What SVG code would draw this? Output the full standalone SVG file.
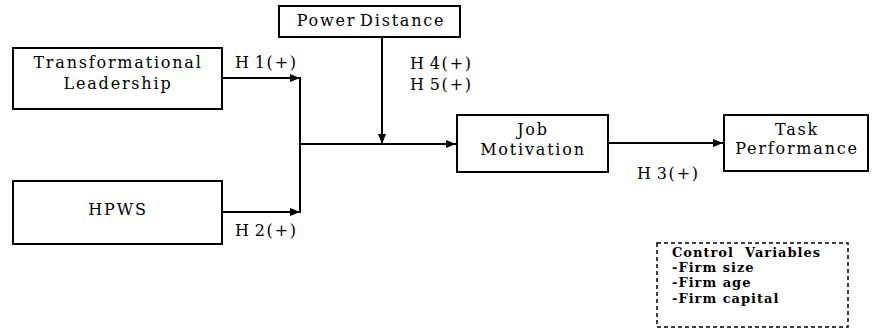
<svg xmlns="http://www.w3.org/2000/svg" width="883" height="330" viewBox="0 0 883 330">
<defs>
<style>
.box{fill:#fff;stroke:#000;stroke-width:2}
.t{font-family:"DejaVu Serif","Liberation Serif",serif;font-size:16px;letter-spacing:1.8px;word-spacing:-3px;fill:#000}
.c{text-anchor:middle}
.ln{fill:none;stroke:#000;stroke-width:2}
.cv{font-family:"DejaVu Serif","Liberation Serif",serif;font-size:13px;font-weight:bold;letter-spacing:1px;fill:#000;white-space:pre}
</style>
<marker id="ah" viewBox="0 0 10 8" refX="10" refY="4" markerWidth="10" markerHeight="8" markerUnits="userSpaceOnUse" orient="auto">
<path d="M0,0 L10,4 L0,8 Z" fill="#000"/>
</marker>
</defs>
<rect width="883" height="330" fill="#fff"/>
<g id="connectors">
<line class="ln" x1="222" y1="78" x2="300" y2="78" marker-end="url(#ah)"/>
<line class="ln" x1="222" y1="212" x2="300" y2="212" marker-end="url(#ah)"/>
<line class="ln" x1="300" y1="77" x2="300" y2="213"/>
<line class="ln" x1="300" y1="144" x2="456" y2="144" marker-end="url(#ah)"/>
<line class="ln" x1="382" y1="37" x2="382" y2="144" marker-end="url(#ah)"/>
<line class="ln" x1="608" y1="143" x2="723" y2="143" marker-end="url(#ah)"/>
<text class="t" x="235" y="68">H 1(+)</text>
<text class="t" x="235" y="236">H 2(+)</text>
<text class="t" x="410" y="69">H 4(+)</text>
<text class="t" x="410" y="90">H 5(+)</text>
<text class="t" x="637" y="179">H 3(+)</text>
</g>
<g id="transformational-leadership">
<rect class="box" x="13" y="48" width="209" height="61"/>
<text class="t c" x="118" y="68">Transformational</text>
<text class="t c" x="118" y="89">Leadership</text>
</g>
<g id="hpws">
<rect class="box" x="13" y="181" width="209" height="63"/>
<text class="t c" x="118" y="215">HPWS</text>
</g>
<g id="power-distance">
<rect class="box" x="279" y="6" width="181" height="31"/>
<text class="t c" x="371" y="26">Power Distance</text>
</g>
<g id="job-motivation">
<rect class="box" x="457" y="115" width="151" height="57"/>
<text class="t c" x="533" y="135">Job</text>
<text class="t c" x="533" y="155">Motivation</text>
</g>
<g id="task-performance">
<rect class="box" x="724" y="115" width="144" height="56"/>
<text class="t c" x="797" y="135">Task</text>
<text class="t c" x="797" y="154">Performance</text>
</g>
<g id="control-variables">
<rect x="657" y="243" width="191" height="84" fill="#fff" stroke="#000" stroke-width="1.5" stroke-dasharray="4,3"/>
<text class="cv" x="672" y="257">Control  Variables</text>
<text class="cv" x="672" y="272">-Firm size</text>
<text class="cv" x="672" y="287">-Firm age</text>
<text class="cv" x="672" y="303">-Firm capital</text>
</g>
</svg>
